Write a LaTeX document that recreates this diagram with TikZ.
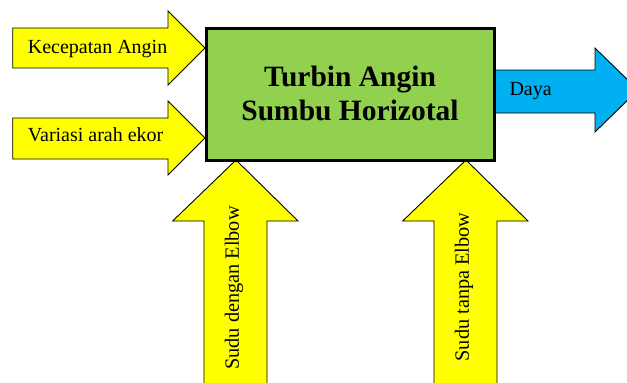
\documentclass[tikz,border=0pt]{standalone}
\usepackage{fontspec}
\setmainfont{Liberation Serif}
\definecolor{ylw}{HTML}{FFFF00}
\definecolor{grn}{HTML}{92D050}
\definecolor{blu}{HTML}{00B0F0}
\begin{document}
\begin{tikzpicture}[x=1pt,y=-1pt,
  blockarrow/.style={draw=black,line width=0.9pt,line join=miter},
  lbl/.style={inner sep=0pt,font=\fontsize{20}{22}\selectfont},
  vlbl/.style={inner sep=0pt,rotate=90,font=\fontsize{20.3}{22}\selectfont},
  mainbox/.style={draw=black,fill=grn,line width=3pt}]
\useasboundingbox (0,0) rectangle (627,383);
\clip (0,0) rectangle (627,383);
% input arrows
\draw[blockarrow,fill=ylw] (12.7,28) -- (168,28) -- (168,11) -- (205,48) -- (168,85) -- (168,68) -- (12.7,68) -- cycle;
\draw[blockarrow,fill=ylw] (12.7,118) -- (168,118) -- (168,101) -- (205,138) -- (168,175) -- (168,159) -- (12.7,159) -- cycle;
% output arrow
\draw[blockarrow,fill=blu] (494,70) -- (595,70) -- (595,48) -- (638,90) -- (595,132) -- (595,113) -- (494,113) -- cycle;
% bottom arrows
\draw[blockarrow,fill=ylw] (204,395) -- (204,221) -- (172.7,221) -- (236,160) -- (298,221) -- (267,221) -- (267,395) -- cycle;
\draw[blockarrow,fill=ylw] (434,395) -- (434,221) -- (402.7,221) -- (466,160) -- (528,221) -- (497,221) -- (497,395) -- cycle;
% main box
\node[mainbox,minimum width=287.5pt,minimum height=132pt,inner sep=0pt] (turbin) at (350.25,94) {};
\node[inner sep=0pt,align=center,font=\fontsize{29.5}{34}\selectfont\bfseries] (title) at (350,93) {Turbin Angin\\Sumbu Horizotal};
% labels
\node[lbl,anchor=base west] (kec) at (27.7,53.3) {Kecepatan Angin};
\node[lbl,anchor=base west] (var) at (27.7,141.7) {Variasi arah ekor};
\node[lbl,anchor=base west] (daya) at (509.3,95.7) {Daya};
\node[vlbl] (sde) at (234,288) {Sudu dengan Elbow};
\node[vlbl] (ste) at (464,287) {Sudu tanpa Elbow};
\end{tikzpicture}
\end{document}
